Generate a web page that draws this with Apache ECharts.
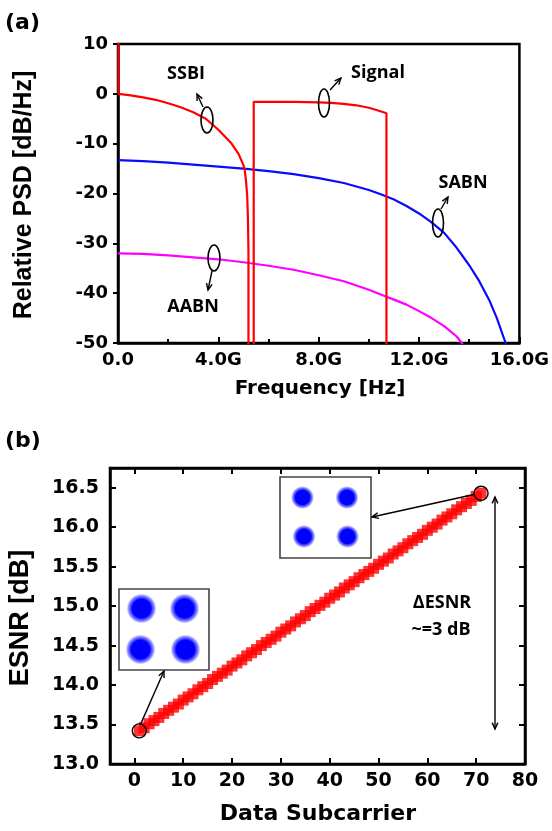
<!DOCTYPE html>
<html><head><meta charset="utf-8">
<script src="https://cdn.jsdelivr.net/npm/echarts@6/dist/echarts.min.js"></script>
<style>html,body{margin:0;padding:0;background:#fff}#c{width:552px;height:831px}</style>
</head><body><div id="c"></div>
<script>
// ---------- Panel (a): relative PSD vs frequency (GHz) ----------
const ssbiFreq = [0.02, 0.02, 0.5, 1, 1.5, 2, 2.5, 3, 3.5, 4, 4.5, 4.8, 5.0, 5.05, 5.1, 5.15, 5.18, 5.2, 5.2];
const ssbiPsd  = [15, 0, -0.3, -0.7, -1.2, -1.9, -2.7, -3.7, -5.0, -7.2, -9.8, -12.0, -14.3, -15.3, -17.3, -20.5, -25, -32, -60];
const signalFreq = [5.41, 5.41, 6, 7, 8, 8.5, 9, 9.5, 10, 10.4, 10.7, 10.7];
const signalPsd  = [-60, -1.6, -1.6, -1.6, -1.7, -1.8, -2.0, -2.3, -2.8, -3.4, -3.9, -60];
const sabnFreq = [0, 1, 2, 3, 4, 5, 6, 7, 8, 9, 10, 10.5, 11, 11.5, 12, 12.5, 13, 13.5, 14, 14.4, 14.8, 15.1, 15.45, 15.6];
const sabnPsd  = [-13.3, -13.5, -13.8, -14.2, -14.6, -15.0, -15.5, -16.1, -16.9, -17.9, -19.3, -20.2, -21.2, -22.5, -24.0, -25.8, -27.9, -30.9, -34.4, -37.6, -41.4, -45.0, -50, -52];
const aabnFreq = [0, 1, 2, 3, 4, 5, 6, 7, 8, 9, 10, 10.7, 11, 11.5, 12, 12.5, 13, 13.5, 13.7, 14];
const aabnPsd  = [-32, -32.1, -32.4, -32.8, -33.2, -33.8, -34.5, -35.3, -36.4, -37.6, -39.3, -40.7, -41.3, -42.3, -43.6, -45.0, -46.6, -48.7, -50, -52];
const freqTickLabels = ['0.0', '4.0G', '8.0G', '12.0G', '16.0G'];

// ---------- Panel (b): ESNR vs data subcarrier ----------
const subcarrier = [1,2,3,4,5,6,7,8,9,10,11,12,13,14,15,16,17,18,19,20,21,22,23,24,25,26,27,28,29,30,31,32,33,34,35,36,37,38,39,40,41,42,43,44,45,46,47,48,49,50,51,52,53,54,55,56,57,58,59,60,61,62,63,64,65,66,67,68,69,70,71];
const esnr = [13.42,13.46,13.51,13.55,13.59,13.64,13.68,13.72,13.76,13.81,13.85,13.89,13.94,13.98,14.02,14.07,14.11,14.15,14.19,14.24,14.28,14.32,14.37,14.41,14.45,14.50,14.54,14.58,14.62,14.67,14.71,14.75,14.80,14.84,14.88,14.93,14.97,15.01,15.05,15.10,15.14,15.18,15.23,15.27,15.31,15.36,15.40,15.44,15.48,15.53,15.57,15.61,15.66,15.70,15.74,15.79,15.83,15.87,15.91,15.96,16.00,16.04,16.09,16.13,16.17,16.22,16.26,16.30,16.34,16.39,16.43];

const pairs = (xs, ys) => xs.map((x, i) => [x, ys[i]]);
const LBL = 'DejaVu Sans';
const chart = echarts.init(document.getElementById('c'), null, {renderer: 'canvas'});

const blackLine = {color: '#000', width: 2.5};
const option = {
  animation: false,
  backgroundColor: '#fff',
  grid: [
    {left: 118, top: 44, width: 408, height: 299, show: true, borderColor: '#000', borderWidth: 2.5, backgroundColor: 'transparent'},
    {left: 110, top: 468, width: 415, height: 296, show: true, borderColor: '#000', borderWidth: 2.5, backgroundColor: 'transparent'}
  ],
  xAxis: [
    {gridIndex: 0, type: 'value', min: 0, max: 16, interval: 4,
      axisLine: {show: true, onZero: false, lineStyle: blackLine},
      axisTick: {show: true, inside: true, length: 6, lineStyle: {color: '#000', width: 2}},
      minorTick: {show: true, splitNumber: 2, length: 4, lineStyle: {color: '#000', width: 2}},
      splitLine: {show: false}, minorSplitLine: {show: false},
      axisLabel: {color: '#000', fontFamily: LBL, fontWeight: 'bold', fontSize: 18, margin: 8,
        formatter: v => freqTickLabels[Math.round(v / 4)]}},
    {gridIndex: 1, type: 'value', min: -5, max: 80, splitNumber: 9,
      axisLine: {show: true, onZero: false, lineStyle: blackLine},
      axisTick: {show: true, inside: true, length: 6, lineStyle: {color: '#000', width: 2}},
      splitLine: {show: false},
      axisLabel: {color: '#000', fontFamily: LBL, fontWeight: 'bold', fontSize: 19, margin: 8, showMinLabel: false,
        formatter: v => (v < 0 ? '' : String(Math.round(v)))}},
    {gridIndex: 1, type: 'value', min: -5, max: 80, splitNumber: 9, position: 'top',
      axisLine: {show: true, onZero: false, lineStyle: blackLine},
      axisTick: {show: true, inside: true, length: 6, lineStyle: {color: '#000', width: 2}},
      splitLine: {show: false}, axisLabel: {show: false}}
  ],
  yAxis: [
    {gridIndex: 0, type: 'value', min: -50, max: 10, interval: 10,
      axisLine: {show: true, onZero: false, lineStyle: blackLine},
      axisTick: {show: true, inside: false, length: 5, lineStyle: {color: '#000', width: 2}},
      splitLine: {show: false},
      axisLabel: {color: '#000', fontFamily: LBL, fontWeight: 'bold', fontSize: 18, margin: 10}},
    {gridIndex: 1, type: 'value', min: 13, max: 16.75, interval: 0.5,
      axisLine: {show: true, onZero: false, lineStyle: blackLine},
      axisTick: {show: true, inside: true, length: 6, lineStyle: {color: '#000', width: 2}},
      splitLine: {show: false},
      axisLabel: {color: '#000', fontFamily: LBL, fontWeight: 'bold', fontSize: 19, margin: 11, showMaxLabel: false,
        formatter: v => v.toFixed(1)}},
    {gridIndex: 1, type: 'value', min: 13, max: 16.75, interval: 0.5, position: 'right',
      axisLine: {show: true, onZero: false, lineStyle: blackLine},
      axisTick: {show: true, inside: true, length: 6, lineStyle: {color: '#000', width: 2}},
      splitLine: {show: false}, axisLabel: {show: false}}
  ],
  series: [
    {name: 'SABN', type: 'line', xAxisIndex: 0, yAxisIndex: 0, data: pairs(sabnFreq, sabnPsd),
      showSymbol: false, smooth: false, clip: true, lineStyle: {color: '#0a0aff', width: 2.2}},
    {name: 'AABN', type: 'line', xAxisIndex: 0, yAxisIndex: 0, data: pairs(aabnFreq, aabnPsd),
      showSymbol: false, smooth: false, clip: true, lineStyle: {color: '#ff00ff', width: 2.2}},
    {name: 'SSBI', type: 'line', xAxisIndex: 0, yAxisIndex: 0, data: pairs(ssbiFreq, ssbiPsd),
      showSymbol: false, clip: true, lineStyle: {color: '#ff0000', width: 2.2}},
    {name: 'Signal', type: 'line', xAxisIndex: 0, yAxisIndex: 0, data: pairs(signalFreq, signalPsd),
      showSymbol: false, clip: true, lineStyle: {color: '#ff0000', width: 2.2}},
    {name: 'ESNR', type: 'scatter', xAxisIndex: 1, yAxisIndex: 1, data: pairs(subcarrier, esnr),
      symbol: 'rect', symbolSize: 11, itemStyle: {color: '#ff0000'}}
  ]
};
chart.setOption(option);

// ---------- annotations ----------
function arrow(x1, y1, x2, y2, head, w) {
  head = head || 7; w = w || 1.4;
  const a = Math.atan2(y2 - y1, x2 - x1);
  const h1 = [x2 - head * Math.cos(a - 0.42), y2 - head * Math.sin(a - 0.42)];
  const h2 = [x2 - head * Math.cos(a + 0.42), y2 - head * Math.sin(a + 0.42)];
  return [
    {type: 'line', z: 100, shape: {x1: x1, y1: y1, x2: x2, y2: y2}, style: {stroke: '#000', lineWidth: w}},
    {type: 'polyline', z: 100, shape: {points: [h1, [x2, y2], h2]}, style: {stroke: '#000', lineWidth: w, fill: null}}
  ];
}
function ell(cx, cy, rx, ry) {
  return {type: 'ellipse', z: 100, shape: {cx: cx, cy: cy, rx: rx, ry: ry}, style: {stroke: '#000', lineWidth: 1.6, fill: null}};
}
function txt(x, y, s, font, align) {
  return {type: 'text', z: 100, x: x, y: y, style: {text: s, font: font, fill: '#000', align: align || 'center', verticalAlign: 'middle'}};
}
function vtxt(x, y, s, font) {
  return {type: 'text', z: 100, x: x, y: y, rotation: Math.PI / 2, style: {text: s, font: font, fill: '#000', align: 'center', verticalAlign: 'middle'}};
}
function cluster(cx, cy, r) {
  return {type: 'circle', z: 101, shape: {cx: cx, cy: cy, r: r}, style: {
    fill: {type: 'radial', x: 0.5, y: 0.5, r: 0.5, colorStops: [
      {offset: 0, color: 'rgba(0,0,255,1)'}, {offset: 0.62, color: 'rgba(0,0,255,1)'},
      {offset: 0.85, color: 'rgba(40,40,255,0.55)'}, {offset: 1, color: 'rgba(80,80,255,0)'}]}}};
}
function inset(x, y, w, h) {
  return {type: 'rect', z: 100, shape: {x: x, y: y, width: w, height: h}, style: {fill: '#fff', stroke: '#444', lineWidth: 1.6}};
}

const ANN = 'bold 18px "Open Sans"';
const p0 = chart.convertToPixel({xAxisIndex: 1, yAxisIndex: 1}, [subcarrier[0], esnr[0]]);
const pN = chart.convertToPixel({xAxisIndex: 1, yAxisIndex: 1}, [subcarrier[subcarrier.length - 1], esnr[esnr.length - 1]]);

let els = [];
// panel labels
els.push(txt(5, 23, '(a)', 'bold 22px "DejaVu Sans"', 'left'));
els.push(txt(5, 441, '(b)', 'bold 22px "DejaVu Sans"', 'left'));
// axis titles
els.push(vtxt(24, 195, 'Relative PSD [dB/Hz]', 'bold 25px "Liberation Sans"'));
els.push(txt(320, 389, 'Frequency [Hz]', 'bold 20px "DejaVu Sans"'));
els.push(vtxt(21, 618, 'ESNR [dB]', 'bold 27px "Liberation Sans"'));
els.push(txt(318, 814, 'Data Subcarrier', 'bold 22px "DejaVu Sans"'));
// panel (a) annotations
els.push(txt(186, 74, 'SSBI', ANN));
els.push(ell(207, 120, 6, 13));
els = els.concat(arrow(203, 107, 197, 94));
els.push(txt(378, 73, 'Signal', ANN));
els.push(ell(324, 103, 5.5, 14));
els = els.concat(arrow(330, 90, 341, 78));
els.push(txt(463, 183, 'SABN', ANN));
els.push(ell(438, 223, 5.5, 14));
els = els.concat(arrow(441, 209, 448, 197));
els.push(txt(193, 307, 'AABN', ANN));
els.push(ell(214, 258, 6, 13));
els = els.concat(arrow(212, 271, 208, 290));
// panel (b) annotations
els.push({type: 'circle', z: 100, shape: {cx: p0[0], cy: p0[1], r: 7}, style: {stroke: '#000', lineWidth: 1.4, fill: null}});
els.push({type: 'circle', z: 100, shape: {cx: pN[0], cy: pN[1], r: 7}, style: {stroke: '#000', lineWidth: 1.4, fill: null}});
els.push(inset(119, 589, 90, 81));
els.push(cluster(141.5, 608.5, 15), cluster(184.5, 608.5, 15), cluster(140.5, 649.5, 15), cluster(185.5, 649.5, 15));
els.push(inset(280, 477, 91, 81));
els.push(cluster(302.5, 497.5, 11.5), cluster(347, 497.5, 11.5), cluster(304, 536.5, 11.5), cluster(347.5, 536.5, 11.5));
els = els.concat(arrow(p0[0] + 1, p0[1] - 6, 164, 671));
els = els.concat(arrow(pN[0] - 6, pN[1] + 1, 372, 517));
els = els.concat(arrow(495, 600, 495, 497));
els = els.concat(arrow(495, 600, 495, 729));
els.push(txt(442, 603, 'ΔESNR', ANN));
els.push(txt(441, 630, '~=3 dB', ANN));

chart.setOption({graphic: {elements: els}});
</script>
</body></html>
